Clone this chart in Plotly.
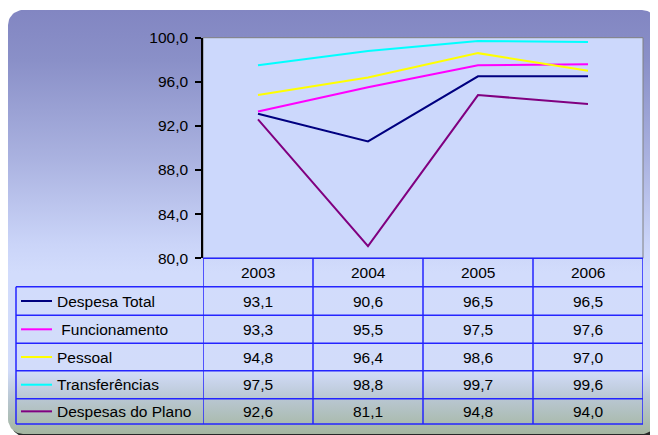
import numpy as np
import plotly.graph_objects as go

W, H = 658, 435
OFF = 8  # page body margin in the viewer; geometry below is in screen pixels

# ---------------- data ----------------
years = ["2003", "2004", "2005", "2006"]
despesa_total = [93.1, 90.6, 96.5, 96.5]
funcionamento = [93.3, 95.5, 97.5, 97.6]
pessoal = [94.8, 96.4, 98.6, 97.0]
transferencias = [97.5, 98.8, 99.7, 99.6]
despesas_plano = [92.6, 81.1, 94.8, 94.0]

series_names = ["Despesa Total", " Funcionamento", "Pessoal", "Transferências", "Despesas do Plano"]
series_values = [despesa_total, funcionamento, pessoal, transferencias, despesas_plano]
series_colors = ["#000080", "#ff00ff", "#ffff00", "#00ffff", "#800080"]
y_range = [80, 100]
y_step = 4

# ---------------- geometry (screen pixels) ----------------
PX0, PX1 = 203, 643          # plot area left/right
PY0, PY1 = 37.7, 258.3       # plot area top/bottom
TX0 = 16                     # table left edge
row_lines = [258.3, 286.7, 315.3, 343.3, 370.7, 398.7, 424.0]
BOX = (8, 10, 657, 434)
RAD = 15
FONT = "Liberation Sans, Arial, sans-serif"
FS = 15.5
GRID = "#2424ff"


def fx(px):
    return (px - OFF) / W


def fy(py):
    return 1 - (py - OFF) / H


def rrect(x0, y0, x1, y1, r, n=14):
    xs, ys = [], []
    corners = [(x1 - r, y0 + r, -90, 0), (x1 - r, y1 - r, 0, 90),
               (x0 + r, y1 - r, 90, 180), (x0 + r, y0 + r, 180, 270)]
    for cx, cy, a0, a1 in corners:
        for a in np.linspace(np.radians(a0), np.radians(a1), n):
            xs.append(cx + r * np.cos(a))
            ys.append(cy + r * np.sin(a))
    xs.append(xs[0])
    ys.append(ys[0])
    return xs, ys


fig = go.Figure()

# shadow
sx, sy = rrect(BOX[0] + 3, BOX[1] + 3, BOX[2] + 3, BOX[3] + 3, RAD)
fig.add_trace(go.Scatter(x=sx, y=sy, xaxis="x", yaxis="y", mode="lines",
                         line=dict(width=0), fill="toself", fillcolor="rgba(15,15,15,0.9)",
                         hoverinfo="skip", showlegend=False))
# gradient background
bx, by = rrect(*BOX, RAD)
fig.add_trace(go.Scatter(
    x=bx, y=by, xaxis="x", yaxis="y", mode="lines", line=dict(width=0),
    fill="toself",
    fillgradient=dict(type="vertical", start=BOX[1], stop=BOX[3],
                      colorscale=[[0.0, "#8286c2"], [0.12, "#8a90c8"], [0.35, "#aab2e0"],
                                  [0.55, "#cad4f8"], [0.62, "#d2dcfc"], [0.85, "#d2dcfa"],
                                  [0.92, "#b8c6d0"], [1.0, "#a4b6a0"]]),
    hoverinfo="skip", showlegend=False))
# plot area
fig.add_trace(go.Scatter(
    x=[PX0, PX1, PX1, PX0, PX0], y=[PY0, PY0, PY1, PY1, PY0], xaxis="x", yaxis="y",
    mode="lines", line=dict(width=1, color="#808080"), fill="toself", fillcolor="#ccd8fc",
    hoverinfo="skip", showlegend=False))

# data lines
for name, vals, col in zip(series_names, series_values, series_colors):
    fig.add_trace(go.Scatter(x=years, y=vals, xaxis="x2", yaxis="y2", mode="lines",
                             name=name.strip(), line=dict(color=col, width=2),
                             showlegend=False))

shapes = []
annotations = []
# table horizontal lines
shapes.append(dict(type="line", xref="paper", yref="paper", x0=fx(PX0), x1=fx(PX1),
                   y0=fy(row_lines[0]), y1=fy(row_lines[0]), line=dict(color=GRID, width=1.5),
                   layer="above"))
for r in row_lines[1:]:
    shapes.append(dict(type="line", xref="paper", yref="paper", x0=fx(TX0), x1=fx(PX1),
                       y0=fy(r), y1=fy(r), line=dict(color=GRID, width=1.5), layer="above"))
shapes.append(dict(type="line", xref="paper", yref="paper", x0=fx(TX0), x1=fx(TX0),
                   y0=fy(row_lines[1]), y1=fy(row_lines[-1]), line=dict(color=GRID, width=1.5),
                   layer="above"))
for k in range(len(years) + 1):
    shapes.append(dict(type="line", xref="x2", yref="paper", x0=k - 0.5, x1=k - 0.5,
                       y0=fy(row_lines[0]), y1=fy(row_lines[-1]),
                       line=dict(color=GRID, width=1.5), layer="above"))

# header labels
hc = (row_lines[0] + row_lines[1]) / 2
for k, yv in enumerate(years):
    annotations.append(dict(x=k, xref="x2", y=fy(hc), yref="paper", text=yv, showarrow=False,
                            font=dict(family=FONT, size=FS, color="black"),
                            xanchor="center", yanchor="middle"))
# rows
for i, (name, vals, col) in enumerate(zip(series_names, series_values, series_colors)):
    c = (row_lines[i + 1] + row_lines[i + 2]) / 2
    shapes.append(dict(type="line", xref="paper", yref="paper", x0=fx(21), x1=fx(52),
                       y0=fy(c), y1=fy(c), line=dict(color=col, width=2), layer="above"))
    annotations.append(dict(x=fx(55), xref="paper", y=fy(c), yref="paper",
                            text=name.replace(" ", "&nbsp;", 1) if name.startswith(" ") else name,
                            showarrow=False, xanchor="left", yanchor="middle",
                            font=dict(family=FONT, size=FS, color="black")))
    for k, v in enumerate(vals):
        annotations.append(dict(x=k, xref="x2", y=fy(c), yref="paper",
                                text=f"{v:.1f}".replace(".", ","), showarrow=False,
                                xanchor="center", yanchor="middle",
                                font=dict(family=FONT, size=FS, color="black")))

fig.update_layout(
    width=W, height=H, autosize=False,
    margin=dict(l=0, r=0, t=0, b=0, pad=0, autoexpand=False),
    paper_bgcolor="white", plot_bgcolor="rgba(0,0,0,0)",
    separators=",.",
    showlegend=False,
    font=dict(family=FONT, size=FS, color="black"),
    xaxis=dict(domain=[0, 1], range=[OFF, W + OFF], visible=False, fixedrange=True,
               automargin=False),
    yaxis=dict(domain=[0, 1], range=[H + OFF, OFF], visible=False, fixedrange=True,
               automargin=False),
    xaxis2=dict(domain=[fx(PX0), fx(PX1)], anchor="y2", type="category",
                range=[-0.5, len(years) - 0.5], showticklabels=False, showgrid=False,
                zeroline=False, showline=False, ticks="", automargin=False),
    yaxis2=dict(domain=[fy(PY1), fy(PY0)], anchor="x2", range=y_range, dtick=y_step,
                tick0=y_range[0], tickformat=".1f", showgrid=False, zeroline=False,
                showline=True, linecolor="black", linewidth=1.5, ticks="outside",
                ticklen=6, tickcolor="black", tickwidth=1.5, automargin=False,
                ticklabelstandoff=4,
                tickfont=dict(family=FONT, size=FS, color="black")),
    shapes=shapes,
    annotations=annotations,
)

fig.write_html("out.html")
